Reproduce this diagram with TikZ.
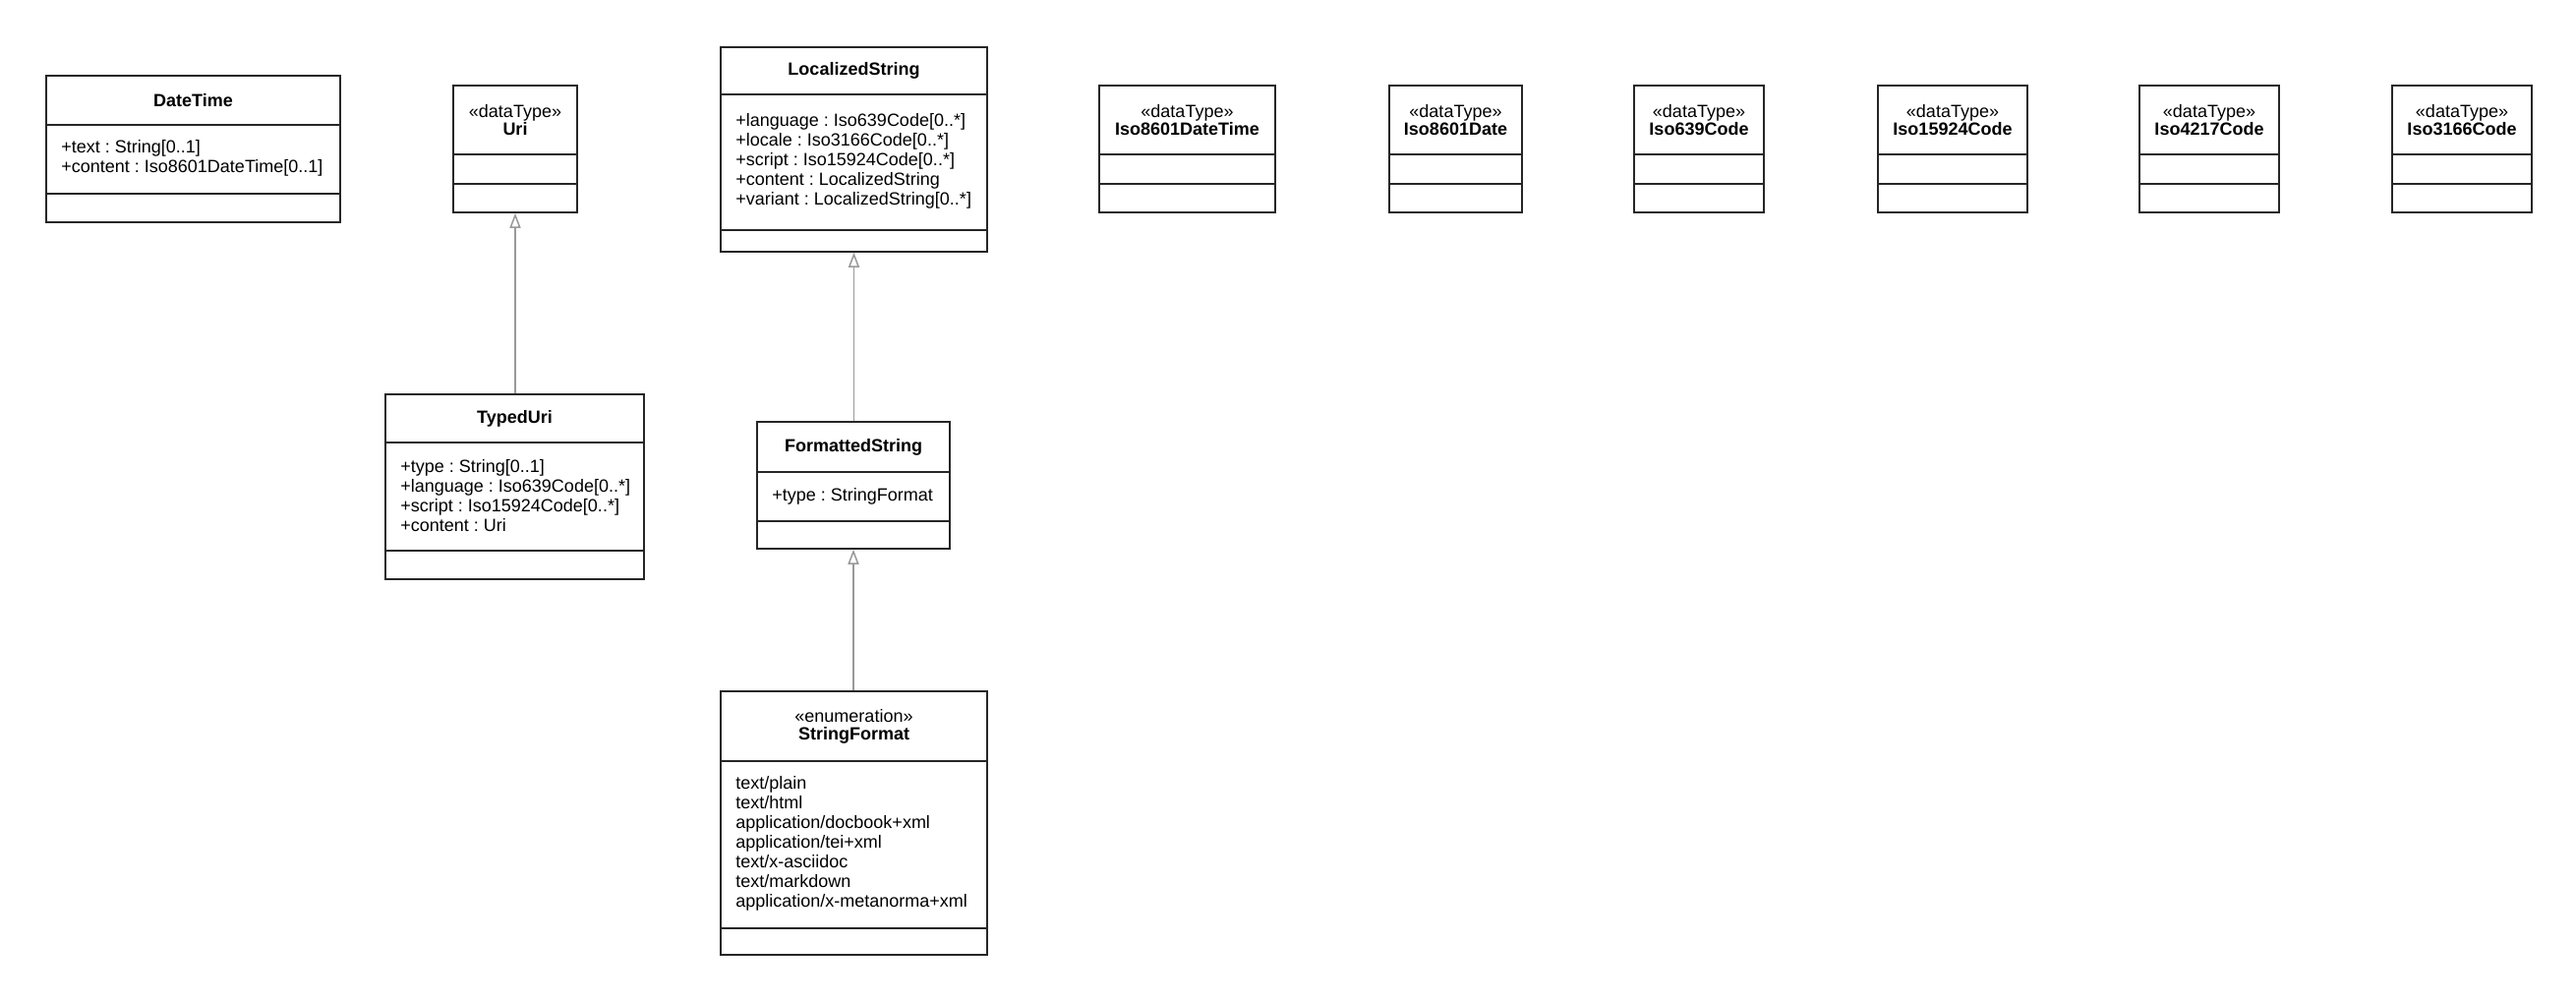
\documentclass[tikz,border=0pt]{standalone}
\usepackage{fontspec}
\setmainfont{Liberation Sans}
\usetikzlibrary{arrows.meta,fit}
\begin{document}
\frenchspacing
\begin{tikzpicture}[x=0.5pt,y=-0.5pt,
  box/.style={draw=black!85, line width=0.75pt, inner sep=0pt},
  divline/.style={draw=black!85, line width=0.75pt},
  title/.style={font=\fontsize{9pt}{9pt}\selectfont\bfseries, inner sep=0pt, anchor=center},
  stereo/.style={align=center, font=\fontsize{9pt}{9pt}\selectfont, inner sep=0pt, anchor=center},
  attrs/.style={align=left, anchor=west, font=\fontsize{9pt}{10pt}\selectfont, inner sep=0pt},
  gen/.style={draw=black!40, line width=0.75pt, -{Triangle[open,length=7.5pt,width=5.5pt]}}
]
\useasboundingbox (0,0) rectangle (2620,1019);
\fill[white] (0,0) rectangle (2620,1019);

% DateTime
\node[box, fit={(47,77) (346,226)}] (datetime) {};
\draw[divline] (47,127) -- (346,127);
\draw[divline] (47,197) -- (346,197);
\node[title] (datetimeT) at (196.5,102) {DateTime};
\node[attrs] (datetimeA) at (62,161) {+text : String[0..1]\\+content : Iso8601DateTime[0..1]};

% Uri
\node[box, fit={(461,87) (587,216)}] (uri) {};
\draw[divline] (461,157) -- (587,157);
\draw[divline] (461,187) -- (587,187);
\node[stereo] (uriT) at (524,122) {«dataType»\\\textbf{Uri}};

% TypedUri
\node[box, fit={(392,401) (655,589)}] (typeduri) {};
\draw[divline] (392,450) -- (655,450);
\draw[divline] (392,560) -- (655,560);
\node[title] (typeduriT) at (523.5,425.5) {TypedUri};
\node[attrs] (typeduriA) at (407,504) {+type : String[0..1]\\+language : Iso639Code[0..*]\\+script : Iso15924Code[0..*]\\+content : Uri};

% LocalizedString
\node[box, fit={(733,48) (1004,256)}] (locstr) {};
\draw[divline] (733,96) -- (1004,96);
\draw[divline] (733,234) -- (1004,234);
\node[title] (locstrT) at (868.5,72) {LocalizedString};
\node[attrs] (locstrA) at (748,164) {+language : Iso639Code[0..*]\\+locale : Iso3166Code[0..*]\\+script : Iso15924Code[0..*]\\+content : LocalizedString\\+variant : LocalizedString[0..*]};

% FormattedString
\node[box, fit={(770,429) (966,558)}] (fmtstr) {};
\draw[divline] (770,480) -- (966,480);
\draw[divline] (770,530) -- (966,530);
\node[title] (fmtstrT) at (868,454.5) {FormattedString};
\node[attrs] (fmtstrA) at (785,505) {+type : StringFormat};

% StringFormat
\node[box, fit={(733,703) (1004,971)}] (strfmt) {};
\draw[divline] (733,774) -- (1004,774);
\draw[divline] (733,944) -- (1004,944);
\node[stereo] (strfmtT) at (868.5,738.5) {«enumeration»\\\textbf{StringFormat}};
\node[attrs] (strfmtA) at (748,858) {text/plain\\text/html\\application/docbook+xml\\application/tei+xml\\text/x-asciidoc\\text/markdown\\application/x-metanorma+xml};

% Data types
\node[box, fit={(1118,87) (1297,216)}] (isodt) {};
\draw[divline] (1118,157) -- (1297,157);
\draw[divline] (1118,187) -- (1297,187);
\node[stereo] (isodtT) at (1207.5,122) {«dataType»\\\textbf{Iso8601DateTime}};

\node[box, fit={(1413,87) (1548,216)}] (isod) {};
\draw[divline] (1413,157) -- (1548,157);
\draw[divline] (1413,187) -- (1548,187);
\node[stereo] (isodT) at (1480.5,122) {«dataType»\\\textbf{Iso8601Date}};

\node[box, fit={(1662,87) (1794,216)}] (iso639) {};
\draw[divline] (1662,157) -- (1794,157);
\draw[divline] (1662,187) -- (1794,187);
\node[stereo] (iso639T) at (1728,122) {«dataType»\\\textbf{Iso639Code}};

\node[box, fit={(1910,87) (2062,216)}] (iso15924) {};
\draw[divline] (1910,157) -- (2062,157);
\draw[divline] (1910,187) -- (2062,187);
\node[stereo] (iso15924T) at (1986,122) {«dataType»\\\textbf{Iso15924Code}};

\node[box, fit={(2176,87) (2318,216)}] (iso4217) {};
\draw[divline] (2176,157) -- (2318,157);
\draw[divline] (2176,187) -- (2318,187);
\node[stereo] (iso4217T) at (2247,122) {«dataType»\\\textbf{Iso4217Code}};

\node[box, fit={(2433,87) (2575,216)}] (iso3166) {};
\draw[divline] (2433,157) -- (2575,157);
\draw[divline] (2433,187) -- (2575,187);
\node[stereo] (iso3166T) at (2504,122) {«dataType»\\\textbf{Iso3166Code}};

% Generalizations
\draw[gen] (uri.south |- typeduri.north) -- (uri.south);
\draw[gen] (locstr.south |- fmtstr.north) -- (locstr.south);
\draw[gen] (fmtstr.south |- strfmt.north) -- (fmtstr.south);
\end{tikzpicture}
\end{document}
